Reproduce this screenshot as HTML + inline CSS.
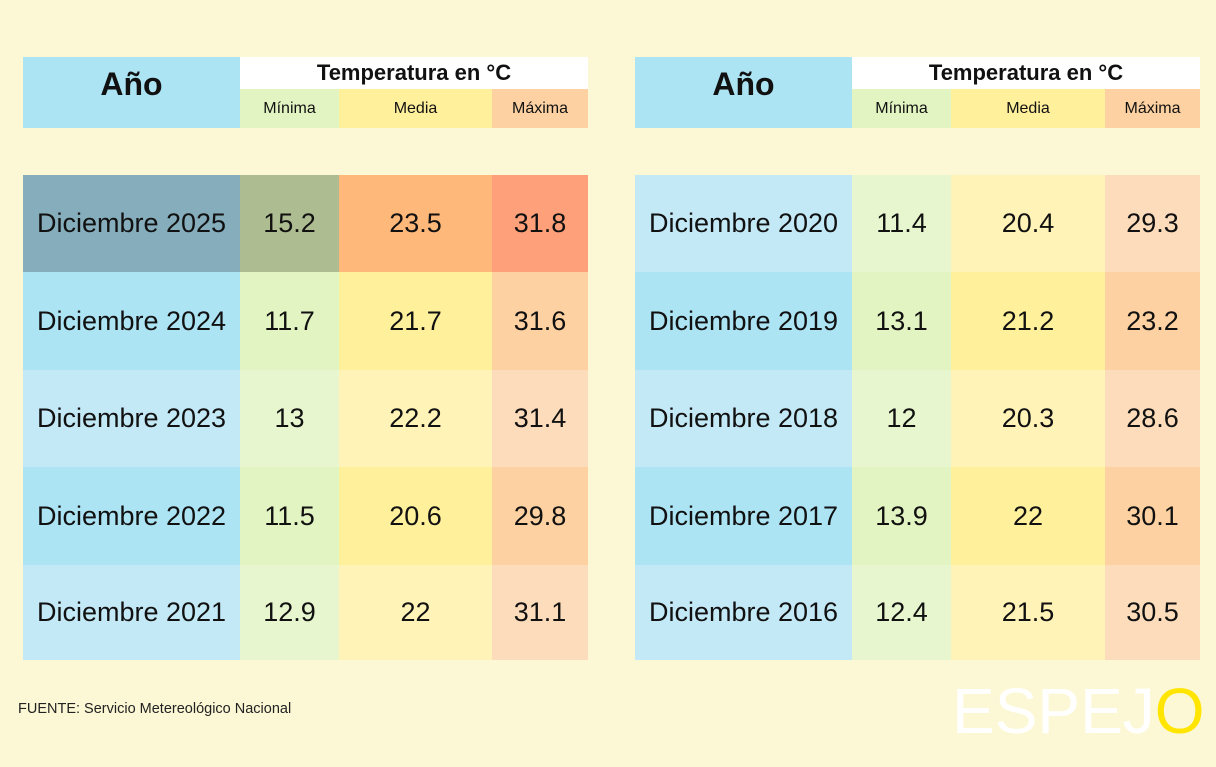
<!DOCTYPE html>
<html><head><meta charset="utf-8"><style>
body{margin:0;width:1216px;height:767px;background:#fcf8d5;position:relative;overflow:hidden;font-family:"Liberation Sans","DejaVu Sans",sans-serif;color:#111}
.c{position:absolute;display:flex;align-items:center;justify-content:center;font-size:27px}
.h{font-weight:bold}
.s{font-size:16px}
</style></head><body>
<script>
const root=document.body;
function cell(x,y,w,h,bg,txt,cls){const d=document.createElement('div');d.className='c '+(cls||'');d.style.cssText=`left:${x}px;top:${y}px;width:${w}px;height:${h}px;background:${bg}`;d.textContent=txt;root.appendChild(d);return d;}
const dark=['#ade4f4','#e2f4c2','#fff09c','#fdd1a1'],light=['#c4e9f6','#e7f6cf','#fff3b8','#fddcbb'],hot=['#85adbb','#adbd91','#feb87a','#fea07a'];
function table(cols,rows){
 const xs=cols;
 let a=cell(xs[0],57,xs[1]-xs[0],71,'#ade4f4','Año','h');
 a.style.fontSize='32px';a.style.paddingBottom='16px';a.style.boxSizing='border-box';
 let t=cell(xs[1],57,xs[4]-xs[1],32,'#ffffff','Temperatura en °C','h');t.style.fontSize='22px';
 cell(xs[1],89,xs[2]-xs[1],39,'#e2f4c2','Mínima','s');
 cell(xs[2],89,xs[3]-xs[2],39,'#fff09c','Media','s');
 cell(xs[3],89,xs[4]-xs[3],39,'#fdd1a1','Máxima','s');
 const ys=[175,272,370,467,565,660];
 rows.forEach((r,i)=>{const p=r[4];for(let j=0;j<4;j++)cell(xs[j],ys[i],xs[j+1]-xs[j],ys[i+1]-ys[i],p[j],r[j]);});
}
table([23,240,339,492,588],[
['Diciembre 2025','15.2','23.5','31.8',hot],
['Diciembre 2024','11.7','21.7','31.6',dark],
['Diciembre 2023','13','22.2','31.4',light],
['Diciembre 2022','11.5','20.6','29.8',dark],
['Diciembre 2021','12.9','22','31.1',light]]);
table([635,852,951,1105,1200],[
['Diciembre 2020','11.4','20.4','29.3',light],
['Diciembre 2019','13.1','21.2','23.2',dark],
['Diciembre 2018','12','20.3','28.6',light],
['Diciembre 2017','13.9','22','30.1',dark],
['Diciembre 2016','12.4','21.5','30.5',light]]);
</script>
<div style="position:absolute;left:18px;top:701px;font-size:14.5px;color:#222">FUENTE: Servicio Metereológico Nacional</div>
<div style="position:absolute;left:952px;top:675px;font-size:64px;color:#fff;letter-spacing:0px;line-height:72px">ESPEJ<span style="color:#ffe500">O</span></div>
</body></html>
